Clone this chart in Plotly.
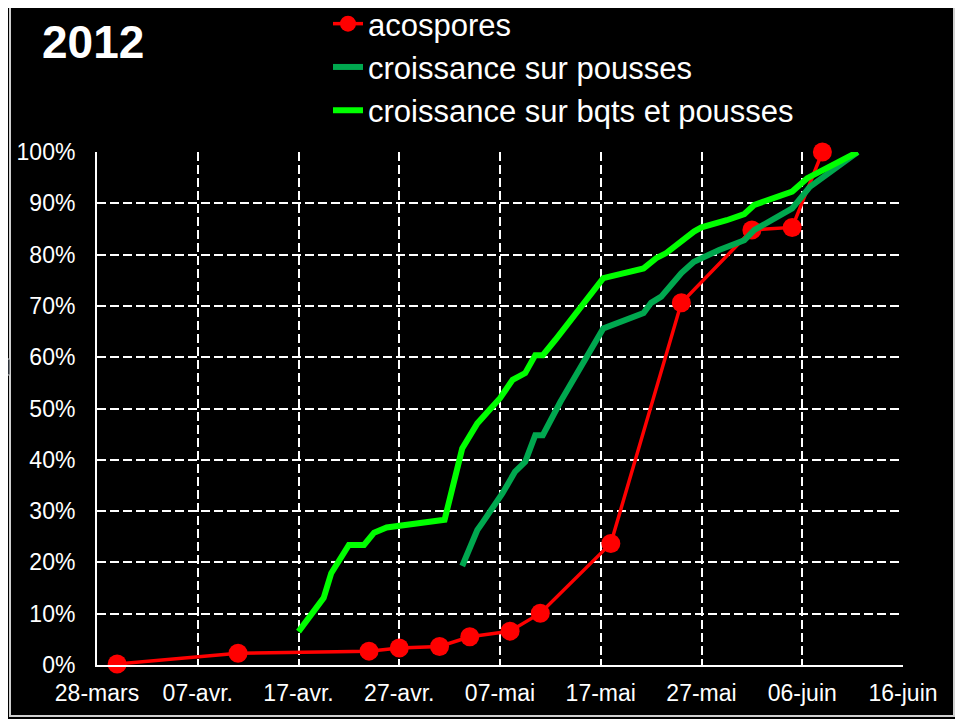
import plotly.graph_objects as go

# --- data ---
aco_dates = ["2012-03-30", "2012-04-11", "2012-04-24", "2012-04-27", "2012-05-01", "2012-05-04",
             "2012-05-08", "2012-05-11", "2012-05-18", "2012-05-25", "2012-06-01", "2012-06-05",
             "2012-06-08"]
aco_vals = [0.2, 2.3, 2.7, 3.3, 3.6, 5.5, 6.6, 10.1, 23.7, 70.6, 84.8, 85.3, 100]

pous_dates = ["2012-05-03 06:00", "2012-05-04 18:00", "2012-05-05 06:00", "2012-05-07 06:00",
              "2012-05-08 12:00", "2012-05-09 12:00", "2012-05-10 12:00", "2012-05-11 06:00",
              "2012-05-13 00:00", "2012-05-17 06:00", "2012-05-21 06:00", "2012-05-22 00:00",
              "2012-05-23 00:00", "2012-05-25 00:00", "2012-05-26 06:00", "2012-05-28 18:00",
              "2012-05-31 06:00", "2012-06-01 06:00", "2012-06-05 00:00", "2012-06-06 18:00",
              "2012-06-11 12:00"]
pous_vals = [19.3, 26.3, 27.7, 33.5, 37.7, 39.6, 44.8, 44.8, 51.3, 65.6, 68.6, 70.6,
             71.8, 76.4, 78.6, 80.9, 82.8, 84.8, 89.0, 93.2, 100]

bqts_dates = ["2012-04-17 00:00", "2012-04-19 12:00", "2012-04-20 06:00", "2012-04-22 00:00",
              "2012-04-23 12:00", "2012-04-24 12:00", "2012-04-25 18:00", "2012-05-01 12:00",
              "2012-05-03 06:00", "2012-05-04 18:00", "2012-05-07 00:00", "2012-05-08 06:00",
              "2012-05-09 12:00", "2012-05-10 12:00", "2012-05-11 06:00", "2012-05-12 12:00",
              "2012-05-17 06:00", "2012-05-21 06:00", "2012-05-22 12:00", "2012-05-23 12:00",
              "2012-05-26 06:00", "2012-05-27 00:00", "2012-05-29 12:00", "2012-05-31 06:00",
              "2012-06-01 06:00", "2012-06-05 00:00", "2012-06-06 12:00", "2012-06-11 12:00"]
bqts_vals = [6.5, 13.1, 17.9, 23.4, 23.4, 25.8, 26.8, 28.3, 42.2, 47.1, 52.0, 55.6,
             56.9, 60.4, 60.4, 63.4, 75.4, 77.3, 79.3, 80.3, 84.5, 85.3, 86.7, 87.9,
             89.7, 92.3, 94.9, 100]

x_tick_vals = ["2012-03-28", "2012-04-07", "2012-04-17", "2012-04-27", "2012-05-07",
               "2012-05-17", "2012-05-27", "2012-06-06", "2012-06-16"]
x_tick_text = ["28-mars", "07-avr.", "17-avr.", "27-avr.", "07-mai", "17-mai", "27-mai",
               "06-juin", "16-juin"]
y_tick_vals = [0, 10, 20, 30, 40, 50, 60, 70, 80, 90, 100]
y_tick_text = [f"{v}%" for v in y_tick_vals]

FONT = "Liberation Sans, Arial, sans-serif"

fig = go.Figure()
fig.add_trace(go.Scatter(x=aco_dates, y=aco_vals, name="acospores", mode="lines+markers",
                         line=dict(color="#FF0000", width=3.5), cliponaxis=False,
                         marker=dict(color="#FF0000", size=19)))
fig.add_trace(go.Scatter(x=pous_dates, y=pous_vals, name="croissance sur pousses", mode="lines",
                         line=dict(color="#00A84F", width=6), cliponaxis=False))
fig.add_trace(go.Scatter(x=bqts_dates, y=bqts_vals, name="croissance sur bqts et pousses",
                         mode="lines", line=dict(color="#00FF00", width=6), cliponaxis=False))


def px_x(sx):
    return (sx - 97) / 806


def px_y(sy):
    return 1 + (152 - sy) / 513


fig.update_layout(
    width=963, height=719,
    paper_bgcolor="black", plot_bgcolor="black",
    margin=dict(l=89, r=68, t=144, b=62, autoexpand=False),
    font=dict(family=FONT, color="white", size=23),
    showlegend=True,
    legend=dict(x=px_x(328), y=px_y(-3), xanchor="left", yanchor="top",
                bgcolor="rgba(0,0,0,0)", font=dict(size=31, color="white"),
                itemwidth=30, tracegroupgap=0),
    xaxis=dict(range=["2012-03-28", "2012-06-16"], tickvals=x_tick_vals, ticktext=x_tick_text,
               showgrid=True, gridcolor="white", griddash="9px,4px", gridwidth=2,
               showline=True, linecolor="white", linewidth=2, zeroline=False, automargin=False,
               ticks="", ticklabelstandoff=6, tickfont=dict(size=23)),
    yaxis=dict(range=[0, 100], tickvals=y_tick_vals, ticktext=y_tick_text,
               showgrid=True, gridcolor="white", griddash="9px,4px", gridwidth=2,
               showline=True, linecolor="white", linewidth=2, zeroline=False, automargin=False,
               ticks="", ticklabelstandoff=15, tickfont=dict(size=23)),
    annotations=[dict(text="<b>2012</b>", xref="paper", yref="paper", x=px_x(40), y=px_y(42),
                      xanchor="left", yanchor="middle", showarrow=False,
                      font=dict(size=46, color="white", family=FONT))],
    shapes=[dict(type="rect", xref="paper", yref="paper",
                 x0=px_x(10), x1=px_x(954), y0=px_y(716), y1=px_y(2),
                 line=dict(color="#d0d0d0", width=2), layer="below"),
            dict(type="rect", xref="paper", yref="paper",
                 x0=px_x(-2), x1=px_x(10), y0=px_y(375), y1=px_y(359),
                 fillcolor="#2b3038", line=dict(color="#d0d0d0", width=1), layer="below")],
)

fig.write_html("out.html")
